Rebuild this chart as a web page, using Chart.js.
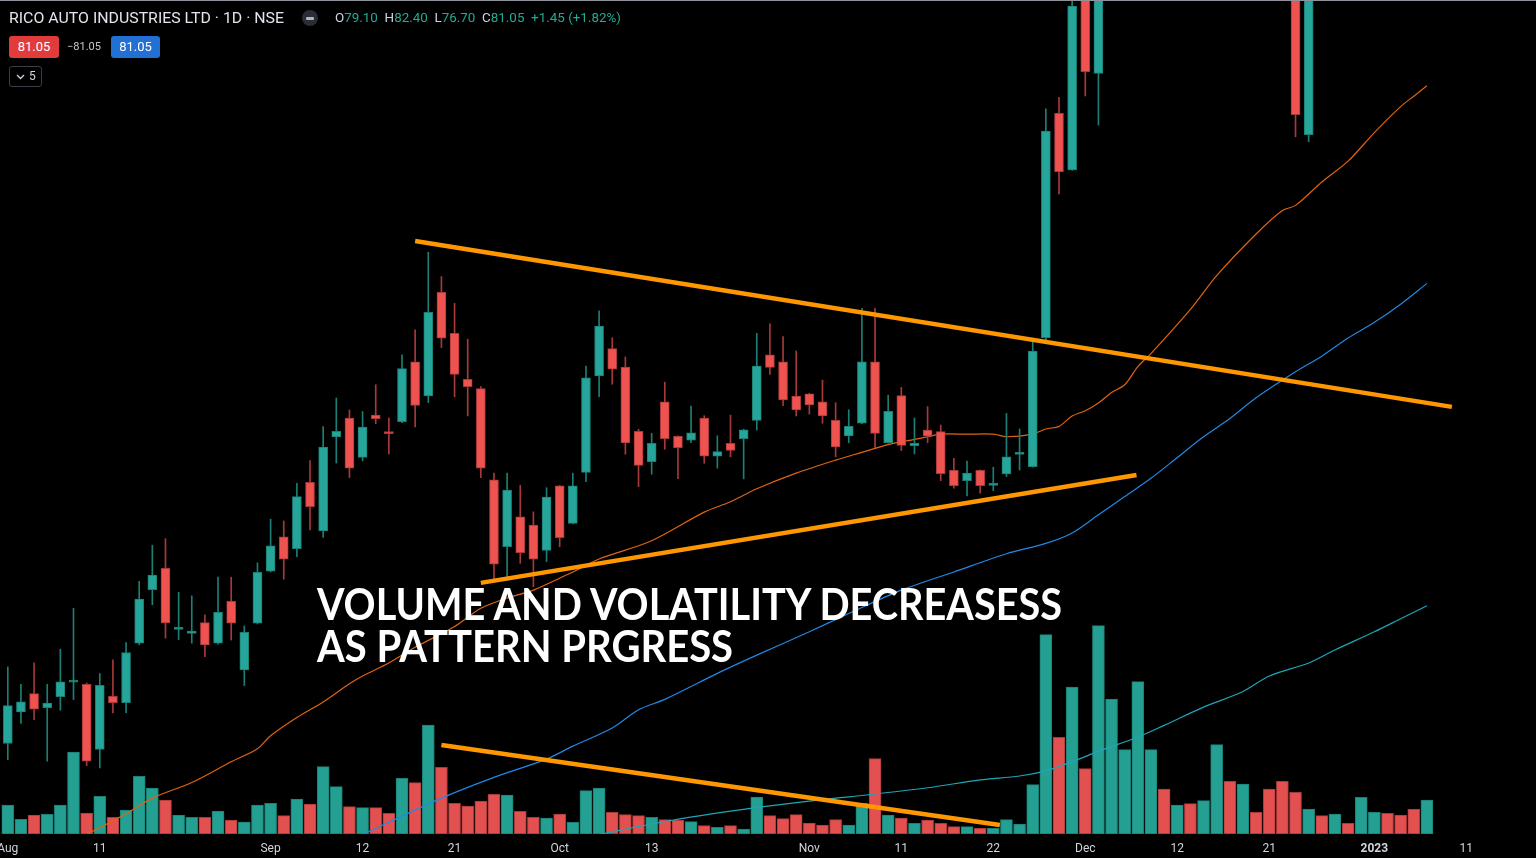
<!DOCTYPE html>
<html>
<head>
<meta charset="utf-8">
<title>RICO AUTO INDUSTRIES LTD · 1D · NSE</title>
<script src="https://cdn.jsdelivr.net/npm/chart.js@4.4.0/dist/chart.umd.min.js"></script>
<style>
    html, body { margin: 0; padding: 0; background: #000; }
    body { width: 1536px; height: 858px; overflow: hidden; position: relative; font-family: Roboto, "Noto Sans", sans-serif; }
    #chart { position: absolute; left: 0; top: 0; }
    .topline { position: absolute; left: 0; top: 0; width: 1536px; height: 1px; background: #8f929b; }
    .fit { transform-origin: 0 50%; white-space: nowrap; }
    .title { position: absolute; left: 9px; top: 9px; height: 18px; line-height: 18px; font-size: 15.5px; color: #e3e5ec; }
    .dot { position: absolute; left: 302px; top: 10px; width: 16px; height: 16px; border-radius: 50%; background: #2a2d35; }
    .dot::after { content: ""; position: absolute; left: 4px; top: 6.5px; width: 8px; height: 3px; border-radius: 1px; background: #b2b5be; }
    .ohlc { position: absolute; left: 335px; top: 10px; height: 16px; line-height: 16px; font-size: 13.2px; color: #d1d4dc; }
    .ohlc span { color: #22ab94; }
    .box { position: absolute; top: 36px; height: 22px; line-height: 22px; border-radius: 3px; color: #fff; font-size: 13px; text-align: center; }
    .red { left: 9px; width: 50px; background: #e13b3b; }
    .blue { left: 111px; width: 49px; background: #2270d4; }
    .mid { position: absolute; left: 67px; top: 36px; height: 22px; line-height: 22px; font-size: 11px; color: #c3c6ce; }
    .toggle { position: absolute; left: 9px; top: 66px; width: 31px; height: 19px; border: 1px solid #3b3e47; border-radius: 3px; color: #d1d4dc; font-size: 12px; line-height: 19px; }
    .toggle svg { position: absolute; left: 6px; top: 7px; }
    .toggle b { position: absolute; left: 19px; top: 0; font-weight: normal; }
    .note { position: absolute; left: 317px; color: #fff; font-weight: bold; font-size: 44px; line-height: 44px; transform-origin: 0 0;
            font-family: "Liberation Sans Narrow", Lato, "Open Sans", sans-serif; white-space: nowrap; }
</style>
</head>
<body>
<canvas id="chart" width="1536" height="858"></canvas>
<div class="topline"></div>
<div class="title fit" id="title">RICO AUTO INDUSTRIES LTD · 1D · NSE</div>
<div class="dot"></div>
<div class="ohlc fit" id="ohlc">O<span>79.10</span>&nbsp; H<span>82.40</span>&nbsp; L<span>76.70</span>&nbsp; C<span>81.05</span>&nbsp; <span>+1.45 (+1.82%)</span></div>
<div class="box red">81.05</div>
<div class="mid">−81.05</div>
<div class="box blue">81.05</div>
<div class="toggle"><svg width="9" height="6" viewBox="0 0 9 6"><polyline points="1,1 4.5,4.5 8,1" fill="none" stroke="#d1d4dc" stroke-width="1.3"/></svg><b>5</b></div>
<div class="note" id="note1" style="top:581px">VOLUME AND VOLATILITY DECREASESS</div>
<div class="note" id="note2" style="top:623px">AS PATTERN PRGRESS</div>

<script>
// trading days shown on the chart
const dates = [
    '2022-08-01','2022-08-02','2022-08-03','2022-08-04','2022-08-05','2022-08-08','2022-08-10','2022-08-11','2022-08-12','2022-08-16',
    '2022-08-17','2022-08-18','2022-08-19','2022-08-22','2022-08-23','2022-08-24','2022-08-25','2022-08-26','2022-08-29','2022-08-30',
    '2022-09-01','2022-09-02','2022-09-05','2022-09-06','2022-09-07','2022-09-08','2022-09-09','2022-09-12','2022-09-13','2022-09-14',
    '2022-09-15','2022-09-16','2022-09-19','2022-09-20','2022-09-21','2022-09-22','2022-09-23','2022-09-26','2022-09-27','2022-09-28',
    '2022-09-29','2022-09-30','2022-10-03','2022-10-04','2022-10-06','2022-10-07','2022-10-10','2022-10-11','2022-10-12','2022-10-13',
    '2022-10-14','2022-10-17','2022-10-18','2022-10-19','2022-10-20','2022-10-21','2022-10-24','2022-10-25','2022-10-27','2022-10-28',
    '2022-10-31','2022-11-01','2022-11-02','2022-11-03','2022-11-04','2022-11-07','2022-11-09','2022-11-10','2022-11-11','2022-11-14',
    '2022-11-15','2022-11-16','2022-11-17','2022-11-18','2022-11-21','2022-11-22','2022-11-23','2022-11-24','2022-11-25','2022-11-28',
    '2022-11-29','2022-11-30','2022-12-01','2022-12-02','2022-12-05','2022-12-06','2022-12-07','2022-12-08','2022-12-09','2022-12-12',
    '2022-12-13','2022-12-14','2022-12-15','2022-12-16','2022-12-19','2022-12-20','2022-12-21','2022-12-22','2022-12-23','2022-12-26',
    '2022-12-27','2022-12-28','2022-12-29','2022-12-30','2023-01-02','2023-01-03','2023-01-04','2023-01-05','2023-01-06'
];

const open = [
    34.40, 35.62, 36.32, 35.78, 36.20, 36.76, 36.68, 34.17, 36.22, 35.97,
    38.26, 40.32, 41.14, 38.79, 38.64, 39.05, 38.26, 39.87, 37.23, 39.03,
    41.03, 42.35, 41.90, 44.45, 42.58, 46.19, 46.92, 45.41, 47.03, 46.40,
    46.78, 49.08, 47.77, 51.76, 50.18, 48.41, 48.05, 44.54, 41.97, 43.12,
    42.80, 41.83, 44.31, 42.87, 44.83, 48.54, 49.59, 48.88, 46.41, 45.24,
    47.54, 46.22, 46.07, 46.92, 45.45, 45.95, 46.13, 46.83, 49.35, 49.08,
    47.76, 47.85, 47.54, 46.83, 46.23, 46.72, 49.08, 45.97, 47.78, 45.86,
    46.46, 46.40, 44.91, 44.51, 44.91, 44.33, 44.77, 45.52, 45.05, 50.01,
    58.64, 56.46, 66.50, 60.18, 66.00, 69.50, 71.00, 76.00, 77.50, 74.00,
    75.40, 73.50, 75.00, 79.00, 75.50, 77.20, 72.80, 69.50, 66.00, 57.82,
    66.50, 65.80, 68.80, 67.60, 74.50, 77.00, 77.80, 81.00, 79.10
];
const high = [
    37.35, 36.68, 37.50, 36.68, 38.03, 39.60, 36.73, 37.09, 37.62, 38.28,
    40.64, 42.03, 42.28, 40.22, 40.08, 39.35, 40.80, 40.80, 38.92, 41.35,
    43.03, 42.96, 44.41, 45.28, 46.59, 47.69, 47.23, 47.17, 48.20, 46.92,
    49.35, 50.31, 53.30, 52.36, 51.33, 49.95, 48.13, 44.80, 44.80, 44.33,
    43.31, 44.24, 44.33, 44.80, 48.92, 51.04, 50.01, 49.27, 46.49, 46.33,
    48.30, 46.24, 47.38, 47.01, 46.24, 47.03, 46.49, 50.18, 50.54, 50.05,
    49.50, 47.87, 48.38, 47.51, 47.24, 51.14, 51.14, 47.80, 48.10, 46.92,
    47.36, 46.65, 45.37, 45.26, 44.93, 45.03, 47.10, 46.50, 49.99, 58.81,
    59.26, 63.60, 67.20, 67.00, 70.50, 72.00, 77.50, 79.00, 78.20, 76.30,
    75.90, 75.80, 80.50, 80.00, 78.40, 77.60, 73.50, 71.00, 67.00, 66.80,
    68.90, 69.50, 69.40, 75.20, 77.80, 78.40, 78.60, 82.00, 82.40
];
const low = [
    33.78, 35.17, 35.32, 33.72, 35.68, 36.09, 33.55, 33.46, 35.58, 35.59,
    38.20, 39.74, 38.45, 38.40, 38.26, 37.74, 38.22, 38.38, 36.63, 39.00,
    41.00, 40.72, 41.59, 42.62, 42.33, 45.19, 44.63, 45.27, 46.70, 45.54,
    46.74, 46.58, 47.51, 49.63, 47.74, 47.00, 44.63, 40.69, 40.69, 41.33,
    40.43, 41.40, 41.97, 42.85, 44.47, 47.74, 48.22, 45.53, 44.28, 44.76,
    45.72, 44.59, 45.97, 45.18, 44.99, 45.43, 44.58, 46.46, 48.60, 47.40,
    47.00, 47.07, 46.72, 45.43, 45.97, 46.70, 45.78, 45.95, 45.67, 45.54,
    45.97, 44.51, 44.22, 43.92, 44.03, 44.13, 44.67, 44.92, 45.03, 49.83,
    55.54, 56.44, 59.31, 58.19, 64.80, 67.80, 70.20, 73.50, 73.00, 72.80,
    72.60, 72.90, 74.60, 75.10, 74.00, 72.40, 68.00, 64.50, 57.74, 57.55,
    64.40, 65.20, 66.60, 67.10, 73.60, 74.80, 75.60, 78.30, 76.70
];
const close = [
    35.86, 36.00, 35.72, 35.96, 36.77, 36.78, 33.72, 36.64, 35.97, 37.90,
    39.96, 40.88, 39.04, 38.80, 38.73, 38.19, 39.45, 39.03, 38.68, 40.99,
    42.00, 41.49, 43.90, 43.51, 45.80, 46.41, 44.99, 46.57, 46.90, 46.32,
    48.82, 47.41, 50.99, 49.99, 48.60, 48.13, 44.99, 41.30, 44.15, 41.74,
    41.49, 43.88, 42.32, 44.31, 48.47, 50.46, 48.80, 45.96, 45.10, 45.95,
    46.13, 45.78, 46.35, 45.45, 45.63, 45.67, 46.47, 48.92, 48.87, 47.62,
    47.23, 47.42, 47.00, 45.81, 46.60, 49.08, 46.33, 47.18, 45.87, 45.95,
    46.22, 44.78, 44.32, 44.80, 44.32, 44.41, 45.43, 45.53, 49.50, 57.96,
    56.40, 62.77, 60.24, 66.00, 69.60, 71.20, 76.40, 77.80, 74.10, 75.60,
    73.30, 75.00, 79.20, 75.90, 77.60, 73.00, 69.20, 66.20, 58.59, 66.30,
    65.60, 68.70, 67.50, 74.30, 76.90, 75.70, 76.40, 79.60, 81.05
];
// volume, millions of shares
const volume = [
    2.90, 1.47, 1.90, 1.97, 2.90, 8.20, 2.10, 3.77, 1.67, 2.40,
    5.77, 4.60, 3.40, 1.90, 1.67, 1.67, 2.30, 1.40, 1.20, 2.90,
    3.07, 1.83, 3.50, 3.00, 6.73, 4.73, 2.73, 2.63, 2.63, 2.07,
    5.57, 5.13, 10.90, 6.67, 3.07, 2.80, 3.30, 3.97, 3.90, 2.27,
    1.67, 1.60, 2.00, 1.17, 4.33, 4.60, 2.17, 1.93, 1.83, 1.67,
    1.43, 1.37, 1.23, 0.83, 0.67, 0.83, 0.50, 3.70, 1.83, 1.53,
    1.93, 1.10, 0.90, 1.43, 0.90, 3.07, 7.53, 1.90, 1.60, 1.07,
    1.40, 1.07, 0.73, 0.73, 0.57, 0.57, 1.43, 1.00, 4.93, 19.93,
    9.67, 14.70, 6.53, 20.83, 13.50, 8.43, 15.23, 8.43, 4.50, 2.90,
    3.03, 3.33, 8.93, 5.27, 5.00, 2.17, 4.50, 5.27, 4.17, 2.50,
    1.83, 2.00, 1.07, 3.67, 2.17, 2.07, 1.90, 2.50, 3.40
];

// moving averages: [bar index, price]
const maOrange = [
    [6, 30.9], [9, 31.7], [11, 32.3], [14, 32.9], [17, 33.7], [19, 34.2], [20, 34.7], [22, 35.4], [24, 36.0], [26, 36.7],
    [27, 37.0], [29, 37.5], [31, 38.1], [34, 38.9], [36, 39.6], [38, 40.0], [40, 40.3], [43, 41.0], [45, 41.5], [49, 42.2],
    [53, 43.3], [55, 43.7], [57, 44.2], [60, 44.8], [63, 45.3], [65, 45.6], [67, 45.9], [69, 46.1], [70, 46.2], [71, 46.3],
    [73, 46.3], [75, 46.3], [76, 46.2], [78, 46.3], [79, 46.5], [80, 46.6], [81, 47.0], [82, 47.2], [83, 47.5], [84, 47.9],
    [85, 48.2], [86, 48.9], [87, 49.4], [90, 51.1], [92, 52.4], [95, 54.0], [97, 54.9], [98, 55.1], [100, 56.0], [102, 56.8],
    [104, 57.9], [106, 58.9], [107, 59.3], [108, 59.7]
];
const maBlue = [
    [27, 30.9], [33, 32.3], [37, 33.1], [41, 33.8], [43, 34.3], [46, 35.0], [48, 35.7], [50, 36.1], [54, 37.1], [57, 37.8],
    [61, 38.7], [64, 39.4], [68, 40.3], [72, 41.0], [76, 41.7], [79, 42.1], [81, 42.5], [83, 43.2], [85, 43.9], [87, 44.6],
    [89, 45.4], [91, 46.2], [93, 46.9], [95, 47.7], [98, 48.7], [100, 49.3], [102, 50.0], [104, 50.6], [106, 51.3], [108, 52.1]
];
const maCyan = [
    [45, 30.9], [50, 31.4], [55, 31.8], [58, 32.0], [63, 32.3], [65, 32.4], [70, 32.7], [74, 33.0], [77, 33.15], [79, 33.35],
    [81, 33.7], [83, 34.1], [86, 34.65], [88, 35.1], [91, 35.8], [94, 36.4], [96, 37.0], [99, 37.5], [101, 38.0], [104, 38.7],
    [106, 39.2], [108, 39.7]
];

// hand drawn trend lines: [bar index, value]
const trendTop = [[31.0, 53.73], [109.9, 47.35]];
const trendBottom = [[36.0, 40.58], [85.9, 44.73]];
const trendVolume = [[33.0, 8.9], [75.5, 0.9]];

// x axis labels
const tickPos = [0, 7, 20, 27, 34, 42, 49, 61, 68, 75, 82, 89, 96, 104, 111];
const tickLabels = ['Aug', '11', 'Sep', '12', '21', 'Oct', '13', 'Nov', '11', '22', 'Dec', '12', '21', '2023', '11'];

const UP = '#26a69a', DOWN = '#ef5350';
const UP_DARK = '#1c7f75', DOWN_DARK = '#a8393a';

function pts(list) {
    return list.map(p => ({ x: p[0], y: p[1] }));
}

const up = dates.map((d, i) => close[i] >= open[i]);
const wickData = dates.map((d, i) => ({ x: i, y: [low[i], high[i]] }));
const bodyData = dates.map((d, i) => ({ x: i, y: [Math.min(open[i], close[i]), Math.max(open[i], close[i])] }));
const volData = dates.map((d, i) => ({ x: i, y: volume[i] }));

const pxPerBar = 13.14;
const xMin = -7.8 / pxPerBar;
const xMax = xMin + 1536 / pxPerBar;

function trendLine(data, axis) {
    return {
        type: 'line', data: pts(data), yAxisID: axis, order: 0,
        borderColor: '#ff9800', borderWidth: 4.5, pointRadius: 0, borderCapStyle: 'butt'
    };
}

function maLine(data, color) {
    return {
        type: 'line', data: pts(data), yAxisID: 'y', order: 4,
        borderColor: color, borderWidth: 1.2, pointRadius: 0, tension: 0.3
    };
}

new Chart(document.getElementById('chart'), {
    data: {
        datasets: [
            trendLine(trendTop, 'y'),
            trendLine(trendBottom, 'y'),
            trendLine(trendVolume, 'yv'),
            {
                type: 'bar', label: 'body', data: bodyData, yAxisID: 'y', order: 2,
                backgroundColor: up.map(u => u ? UP : DOWN),
                borderColor: up.map(u => u ? UP_DARK : DOWN_DARK),
                borderWidth: 1, borderSkipped: false, barThickness: 9, minBarLength: 2, grouped: false
            },
            {
                type: 'bar', label: 'wick', data: wickData, yAxisID: 'y', order: 3,
                backgroundColor: up.map(u => u ? UP_DARK : DOWN_DARK),
                borderWidth: 0, barThickness: 1, grouped: false
            },
            maLine(maOrange, '#e0640f'),
            maLine(maBlue, '#2189e6'),
            maLine(maCyan, '#1fa5b8'),
            {
                type: 'bar', label: 'volume', data: volData, yAxisID: 'yv', order: 6,
                backgroundColor: up.map(u => u ? '#24a093' : '#e25050'),
                borderColor: up.map(u => u ? UP_DARK : DOWN_DARK),
                borderWidth: 1, borderSkipped: false, barThickness: 12, grouped: false
            }
        ]
    },
    options: {
        responsive: false,
        animation: false,
        events: [],
        layout: { padding: 0, autoPadding: false },
        plugins: { legend: { display: false }, tooltip: { enabled: false } },
        scales: {
            x: {
                type: 'linear', min: xMin, max: xMax, offset: false,
                grid: { display: false, drawTicks: false }, border: { display: false },
                ticks: {
                    color: '#d1d4dc', padding: 8, maxRotation: 0, autoSkip: false,
                    font: (c) => ({ family: 'Roboto, sans-serif', size: 12, weight: tickLabels[c.index] === '2023' ? 'bold' : 'normal' }),
                    callback: (v, i) => tickLabels[i]
                },
                afterBuildTicks: (scale) => { scale.ticks = tickPos.map(v => ({ value: v })); },
                afterFit: (scale) => { scale.height = 24; scale.paddingLeft = 0; scale.paddingRight = 0; }
            },
            y: { display: false, min: 30.92, max: 63 },
            yv: { display: false, min: 0, max: 83.4 }
        }
    }
});

// stretch text blocks to the width they take in the picture
function fitWidth(id, width) {
    const el = document.getElementById(id);
    el.style.transform = 'none';
    const w = el.getBoundingClientRect().width;
    el.style.transform = `scaleX(${width / w})`;
}
function fitAll() {
    fitWidth('note1', 745);
    fitWidth('note2', 416);
    fitWidth('title', 275);
    fitWidth('ohlc', 286);
}
fitAll();
document.fonts.ready.then(fitAll);
</script>
</body>
</html>
